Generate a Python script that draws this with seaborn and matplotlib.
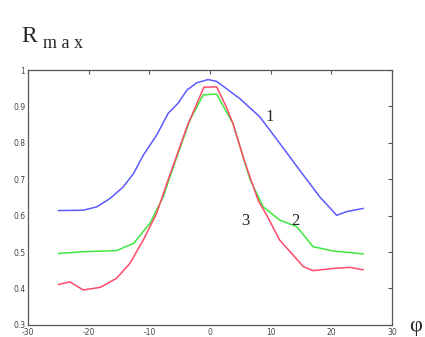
import matplotlib
matplotlib.use("Agg")
import matplotlib.pyplot as plt
import seaborn as sns
import pandas as pd

# Curve 1 (blue)
phi1 = [-25, -20.9, -18.7, -16.5, -14.3, -12.6, -11.0, -8.8, -6.9, -5.2, -3.8, -2.2, -0.3, 1.1,
        4.9, 8.2, 11.5, 14.8, 18.1, 20.9, 22.5, 25.3]
r1 = [0.614, 0.615, 0.624, 0.647, 0.679, 0.716, 0.766, 0.821, 0.881, 0.910, 0.945, 0.965, 0.974, 0.969,
      0.922, 0.872, 0.799, 0.725, 0.652, 0.601, 0.611, 0.620]
# Curve 2 (green)
phi2 = [-25, -20.9, -15.4, -12.6, -9.9, -7.7, -6.6, -3.3, -1.1, 1.1, 3.8, 6.6, 8.8, 11.5,
        14.3, 17.0, 20.3, 25.3]
r2 = [0.496, 0.501, 0.504, 0.524, 0.579, 0.652, 0.707, 0.863, 0.932, 0.934, 0.853, 0.700, 0.624, 0.588,
      0.570, 0.515, 0.503, 0.495]
# Curve 3 (red)
phi3 = [-25, -23.1, -20.9, -18.1, -15.4, -13.2, -11.0, -8.8, -7.1, -3.8, -1.0, 1.1, 2.7, 3.8,
        5.5, 7.1, 8.0, 9.3, 11.5, 13.7, 15.4, 17.0, 20.3, 23.1, 25.3]
r3 = [0.411, 0.418, 0.396, 0.403, 0.428, 0.469, 0.533, 0.606, 0.689, 0.844, 0.953, 0.954, 0.899, 0.853,
      0.760, 0.682, 0.640, 0.603, 0.533, 0.492, 0.460, 0.449, 0.455, 0.458, 0.451]

curve_names = ["1", "2", "3"]
colors = ["#5a5aff", "#3ee83e", "#ff4a6a"]
xticks = [-30, -20, -10, 0, 10, 20, 30]
yticks = [0.3, 0.4, 0.5, 0.6, 0.7, 0.8, 0.9, 1.0]
yticklabels = ["0.3", "0.4", "0.5", "0.6", "0.7", "0.8", "0.9", "1"]

df = pd.concat([
    pd.DataFrame({"phi": phi1, "R": r1, "curve": "1"}),
    pd.DataFrame({"phi": phi2, "R": r2, "curve": "2"}),
    pd.DataFrame({"phi": phi3, "R": r3, "curve": "3"}),
])

sns.set_style("white")
fig = plt.figure(figsize=(4.25, 3.37), dpi=100)
ax = fig.add_axes([0.066, 0.036, 0.856, 0.756])
sns.lineplot(data=df, x="phi", y="R", hue="curve", palette=dict(zip(curve_names, colors)),
             sort=False, estimator=None, linewidth=1.1, legend=False, ax=ax)
ax.set_xlim(-30, 30)
ax.set_ylim(0.3, 1.0)
ax.set_xticks(xticks)
ax.set_xticklabels([str(t) for t in xticks])
ax.set_yticks(yticks)
ax.set_yticklabels(yticklabels)
ax.tick_params(direction="in", length=3, width=0.8, top=True, right=True,
               labelsize=5.5, labelcolor="#444444", color="#555555", pad=2)
for s in ax.spines.values():
    s.set_color("#555555")
    s.set_linewidth(0.9)
ax.set_xlabel("")
ax.set_ylabel("")

serif = ["Liberation Serif", "DejaVu Serif"]
ax.text(9.8, 0.87, "1", family=serif, fontsize=12, ha="center", va="center")
ax.text(14.1, 0.585, "2", family=serif, fontsize=12, ha="center", va="center")
ax.text(5.8, 0.585, "3", family=serif, fontsize=12, ha="center", va="center")
fig.text(0.05, 0.893, "R", family=serif, fontsize=17, ha="left", va="center")
fig.text(0.102, 0.872, "m a x", family=serif, fontsize=13, ha="left", va="center")
fig.text(0.977, 0.03, "φ", family=serif, fontsize=16, ha="center", va="center")

fig.savefig("out.png", dpi=100)
